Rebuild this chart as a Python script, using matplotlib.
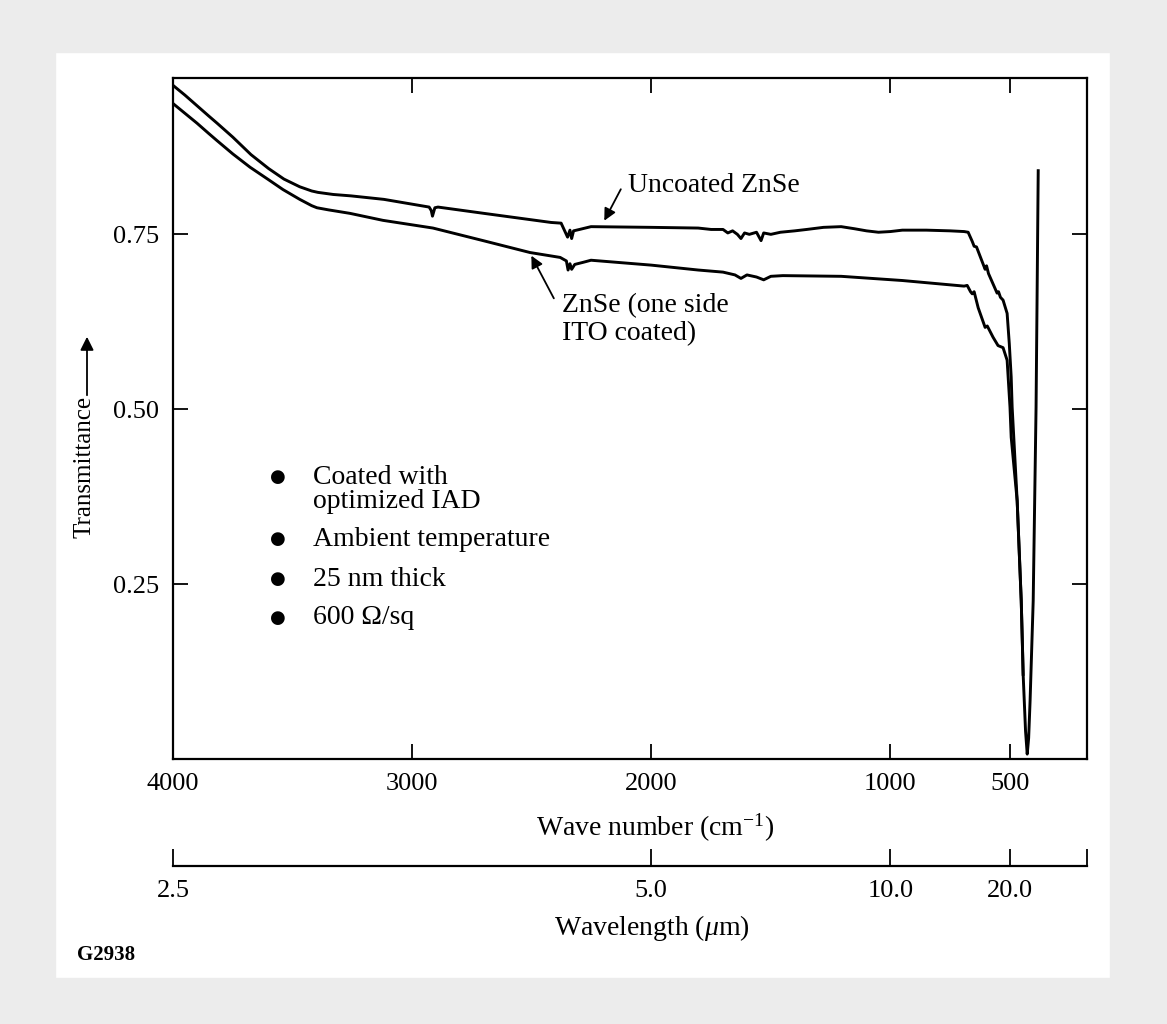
import matplotlib
matplotlib.use("Agg")
import matplotlib.pyplot as plt
from matplotlib.patches import Rectangle

plt.rcParams['font.family'] = ['Liberation Serif', 'DejaVu Serif']
plt.rcParams['mathtext.fontset'] = 'custom'
plt.rcParams['mathtext.rm'] = 'Liberation Serif'
plt.rcParams['mathtext.it'] = 'Liberation Serif:italic'

# uncoated ZnSe (wave number cm-1, transmittance)
wn_unc = [4000, 3950, 3900, 3850, 3816, 3750, 3674, 3600, 3536, 3470, 3420, 3394,
          3330, 3256, 3118, 2929, 2920, 2915, 2905, 2892, 2700, 2419,
          2377, 2350, 2340, 2333, 2325, 2300, 2252, 2000, 1804, 1750, 1700, 1680,
          1660, 1640, 1625, 1610, 1590, 1560, 1541, 1530, 1500, 1460, 1400, 1350,
          1280, 1206, 1150, 1100, 1050, 1000, 950, 850, 750, 692, 675, 658, 650,
          640, 604, 598, 590, 554, 548, 540, 529, 512, 503, 495, 491, 470, 453,
          445, 435, 428, 422, 416, 403, 391, 387, 382]
t_unc = [0.963, 0.949, 0.934, 0.919, 0.909, 0.889, 0.864, 0.844, 0.829, 0.818, 0.812, 0.810,
         0.807, 0.805, 0.800, 0.789, 0.784, 0.776, 0.788, 0.789, 0.780, 0.767,
         0.766, 0.746, 0.756, 0.744, 0.755, 0.757, 0.761, 0.760, 0.759, 0.757, 0.757, 0.752,
         0.755, 0.750, 0.744, 0.752, 0.750, 0.753, 0.741, 0.752, 0.750, 0.753, 0.755, 0.757,
         0.760, 0.761, 0.758, 0.755, 0.753, 0.754, 0.756, 0.756, 0.755, 0.754, 0.753, 0.740, 0.733,
         0.732, 0.700, 0.705, 0.694, 0.666, 0.668, 0.660, 0.656, 0.637, 0.594, 0.546, 0.503, 0.369, 0.226,
         0.121, 0.040, 0.007, 0.030, 0.083, 0.226, 0.503, 0.650, 0.841]

# ZnSe, one side ITO coated
wn_ito = [4000, 3950, 3900, 3850, 3816, 3750, 3678, 3600, 3540, 3470, 3420, 3398,
          3350, 3260, 3122, 2913, 2703, 2507, 2381, 2355,
          2348, 2340, 2333, 2320, 2285, 2252, 2000, 1804, 1700, 1650, 1625, 1600,
          1560, 1530, 1500, 1450, 1206, 950, 692, 679, 665, 658, 650, 633, 604,
          595, 571, 550, 529, 512, 500, 495, 470, 453, 447, 445]
t_ito = [0.937, 0.923, 0.909, 0.894, 0.884, 0.865, 0.846, 0.828, 0.814, 0.800, 0.791, 0.788,
         0.785, 0.780, 0.770, 0.759, 0.741, 0.724, 0.717, 0.712,
         0.699, 0.708, 0.700, 0.707, 0.710, 0.713, 0.706, 0.699, 0.696, 0.692, 0.687, 0.692,
         0.689, 0.685, 0.690, 0.691, 0.690, 0.684, 0.676, 0.677, 0.668, 0.665, 0.668, 0.645, 0.617,
         0.619, 0.603, 0.591, 0.588, 0.570, 0.503, 0.460, 0.369, 0.226, 0.150, 0.121]

wn_ticks = [4000, 3000, 2000, 1000, 500]
t_ticks = [0.25, 0.50, 0.75]
wl_ticks = [4000, 2000, 1000, 500]
wl_labels = ['2.5', '5.0', '10.0', '20.0']
notes = ['Coated with', 'Ambient temperature', '25 nm thick', '600 \u03a9/sq']

W, H = 1167, 1024
fig = plt.figure(figsize=(W / 100, H / 100), dpi=100)

# scanned page border
for (x0, y0, w, h) in [(0, 0, W, 52), (0, 0, 55, H), (1110, 0, 57, H), (0, 978, W, 46)]:
    fig.patches.append(Rectangle((x0 / W, 1 - (y0 + h) / H), w / W, h / H,
                                 transform=fig.transFigure, color='#ececec', zorder=0))


def fx(px):
    return px / W


def fy(py):
    return 1 - py / H


ax = fig.add_axes([fx(173), fy(759), fx(1087) - fx(173), fy(78) - fy(759)])
ax.plot(wn_unc, t_unc, color='black', lw=2.1, solid_joinstyle='round')
ax.plot(wn_ito, t_ito, color='black', lw=2.1, solid_joinstyle='round')
ax.set_xlim(4000, 178)
ax.set_ylim(0, 0.9735)
ax.set_xticks(wn_ticks)
ax.set_yticks(t_ticks)
ax.set_yticklabels(['%.2f' % t for t in t_ticks])
ax.tick_params(direction='in', length=11, width=1.3, top=True, right=True,
               labelsize=19, pad=10)
for s in ax.spines.values():
    s.set_linewidth(1.6)

# annotations
ax.annotate('', xy=(2202, 0.766), xytext=(2122, 0.818),
            arrowprops=dict(arrowstyle='-|>', color='black', lw=1.3, mutation_scale=18))
ax.text(2097, 0.820, 'Uncoated ZnSe', fontsize=20, ha='left', va='center')
ax.annotate('', xy=(2507, 0.723), xytext=(2402, 0.655),
            arrowprops=dict(arrowstyle='-|>', color='black', lw=1.3, mutation_scale=18))
ax.text(2373, 0.648, 'ZnSe (one side', fontsize=20, ha='left', va='center')
ax.text(2373, 0.608, 'ITO coated)', fontsize=20, ha='left', va='center')

# bullet notes
bullet_y = [477, 539, 579, 618]
for y, s in zip(bullet_y, notes):
    fig.text(fx(278), fy(y), '\u25cf', family='DejaVu Sans', fontsize=13,
             ha='center', va='center')
    fig.text(fx(313), fy(y), s, fontsize=20, ha='left', va='center')
fig.text(fx(313), fy(502), 'optimized IAD', fontsize=20, ha='left', va='center')

# y label with arrow
fig.text(fx(85), fy(467), 'Transmittance', fontsize=18, rotation=90,
         ha='center', va='center')
ax.annotate('', xy=(fx(87), fy(334)), xytext=(fx(87), fy(398)),
            xycoords='figure fraction', textcoords='figure fraction',
            arrowprops=dict(arrowstyle='-|>', color='black', lw=1.3, mutation_scale=20))

fig.text(fx(655), fy(828), 'Wave number (cm$^{-1}$)', fontsize=20, ha='center', va='center')

# wavelength scale
ax2 = fig.add_axes([fx(173), fy(866), fx(1087) - fx(173), 0.0005])
ax2.set_xlim(4000, 178)
for k in ['top', 'left', 'right']:
    ax2.spines[k].set_visible(False)
ax2.spines['bottom'].set_linewidth(1.6)
ax2.set_yticks([])
ax2.set_xticks(wl_ticks + [178])
ax2.set_xticklabels(wl_labels + [''])
ax2.tick_params(direction='in', length=12, width=1.3, labelsize=19, pad=10)
ax2.patch.set_alpha(0)

fig.text(fx(652), fy(928), 'Wavelength ($\\mu$m)', fontsize=20, ha='center', va='center')
fig.text(fx(77), fy(955), 'G2938', fontsize=15, fontweight='bold', ha='left', va='center')

fig.savefig('out.png', dpi=100)
